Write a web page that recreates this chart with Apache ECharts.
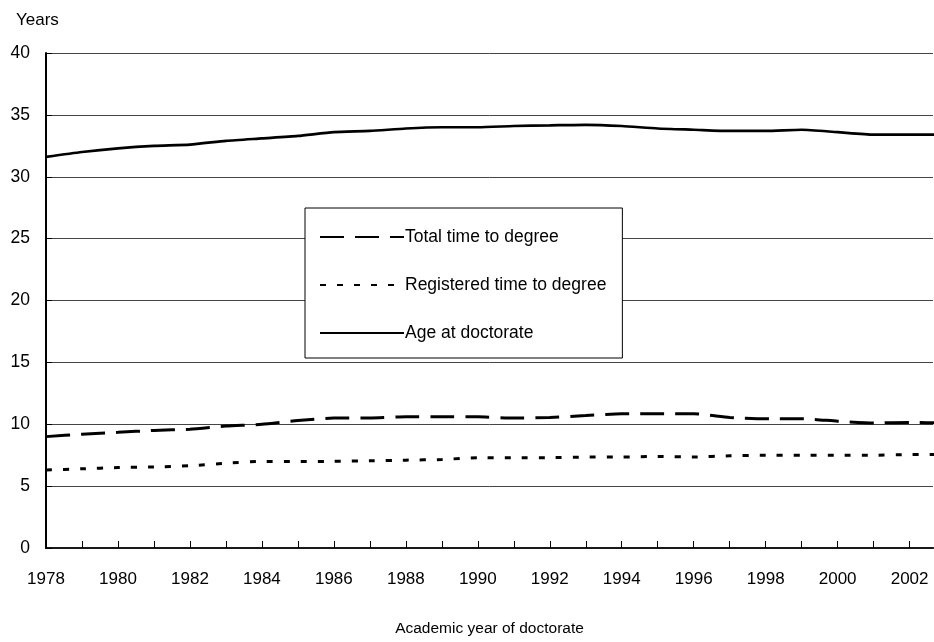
<!DOCTYPE html>
<html>
<head>
<meta charset="utf-8">
<script src="https://cdn.jsdelivr.net/npm/echarts@6/dist/echarts.min.js"></script>
<style>html,body{margin:0;padding:0;background:#fff}#c{width:934px;height:642px}</style>
</head>
<body>
<div id="c"></div>
<script>
var years = [1978,1979,1980,1981,1982,1983,1984,1985,1986,1987,1988,1989,1990,1991,1992,1993,1994,1995,1996,1997,1998,1999,2000,2001,2002,2003];
var totalTime = [9.0,9.2,9.35,9.5,9.6,9.85,10.0,10.3,10.5,10.5,10.6,10.6,10.6,10.5,10.55,10.7,10.85,10.85,10.85,10.55,10.45,10.45,10.25,10.1,10.15,10.1];
var registeredTime = [6.3,6.4,6.5,6.55,6.65,6.85,7.0,7.0,7.0,7.05,7.1,7.15,7.3,7.3,7.3,7.35,7.35,7.4,7.35,7.45,7.5,7.5,7.5,7.5,7.55,7.55];
var ageAtDoctorate = [31.6,32.0,32.3,32.5,32.6,32.9,33.1,33.3,33.6,33.7,33.9,34.0,34.0,34.1,34.15,34.2,34.1,33.9,33.8,33.7,33.7,33.8,33.6,33.4,33.4,33.4];
var seriesNames = ['Total time to degree','Registered time to degree','Age at doctorate'];
var yTicks = {min:0, max:40, interval:5};

function pairs(arr){ return years.map(function(y,i){ return [y, arr[i]]; }); }

var FONT = '"Liberation Sans", Arial, sans-serif';
var chart = echarts.init(document.getElementById('c'));
chart.setOption({
  animation: false,
  backgroundColor: '#fff',
  textStyle: {fontFamily: FONT},
  title: {text: 'Years', left: 11, top: 7, textStyle: {fontFamily: FONT, fontSize: 17, fontWeight: 'normal', color: '#000'}},
  grid: {left: 46, right: 1, top: 53, bottom: 90, containLabel: false},
  legend: {
    orient: 'vertical', left: 305, top: 208,
    padding: [20, 16, 16, 14],
    itemWidth: 84, itemHeight: 14, itemGap: 30,
    backgroundColor: '#fff', borderColor: '#000', borderWidth: 1,
    itemStyle: {color: 'transparent', borderWidth: 0, opacity: 0},
    textStyle: {fontFamily: FONT, fontSize: 17.5, color: '#000', padding: [0, 0, 0, -4]},
    data: seriesNames
  },
  xAxis: [{
    type: 'value', min: 1978, max: 2002.65, interval: 1,
    axisLine: {show: true, onZero: false, lineStyle: {color: '#000', width: 2}},
    axisTick: {show: true, inside: true, length: 7, lineStyle: {color: '#000', width: 1}},
    axisLabel: {
      margin: 23, fontSize: 17, color: '#000', fontFamily: FONT, showMaxLabel: false,
      formatter: function(v){ return (Math.round(v) % 2 === 0) ? String(Math.round(v)) : ''; }
    },
    splitLine: {show: false},
    name: 'Academic year of doctorate', nameLocation: 'middle', nameGap: 73,
    nameTextStyle: {fontSize: 15.5, color: '#000', fontFamily: FONT}
  }, {
    type: 'value', position: 'top', min: 1978, max: 2002.65,
    axisLine: {show: true, lineStyle: {color: '#222', width: 1.5}},
    axisTick: {show: false}, axisLabel: {show: false}, splitLine: {show: false}
  }],
  yAxis: {
    type: 'value', min: yTicks.min, max: yTicks.max, interval: yTicks.interval,
    axisLine: {show: true, lineStyle: {color: '#000', width: 2}},
    axisTick: {show: true, inside: true, length: 6, lineStyle: {color: '#000'}},
    axisLabel: {margin: 16, fontSize: 17.5, color: '#000', fontFamily: FONT},
    splitLine: {show: true, lineStyle: {color: '#444', width: 1}}
  },
  series: [
    {name: seriesNames[0], type: 'line', data: pairs(totalTime), symbol: 'none', smooth: 0.2, clip: true,
     lineStyle: {color: '#000', width: 3, type: [24, 11]}, itemStyle: {color: '#000'}},
    {name: seriesNames[1], type: 'line', data: pairs(registeredTime), symbol: 'none', smooth: 0.2, clip: true,
     lineStyle: {color: '#000', width: 3, type: [6, 11]}, itemStyle: {color: '#000'}},
    {name: seriesNames[2], type: 'line', data: pairs(ageAtDoctorate), symbol: 'none', smooth: 0.2, clip: true,
     lineStyle: {color: '#000', width: 2.7, type: 'solid'}, itemStyle: {color: '#000'}}
  ]
});
</script>
</body>
</html>
